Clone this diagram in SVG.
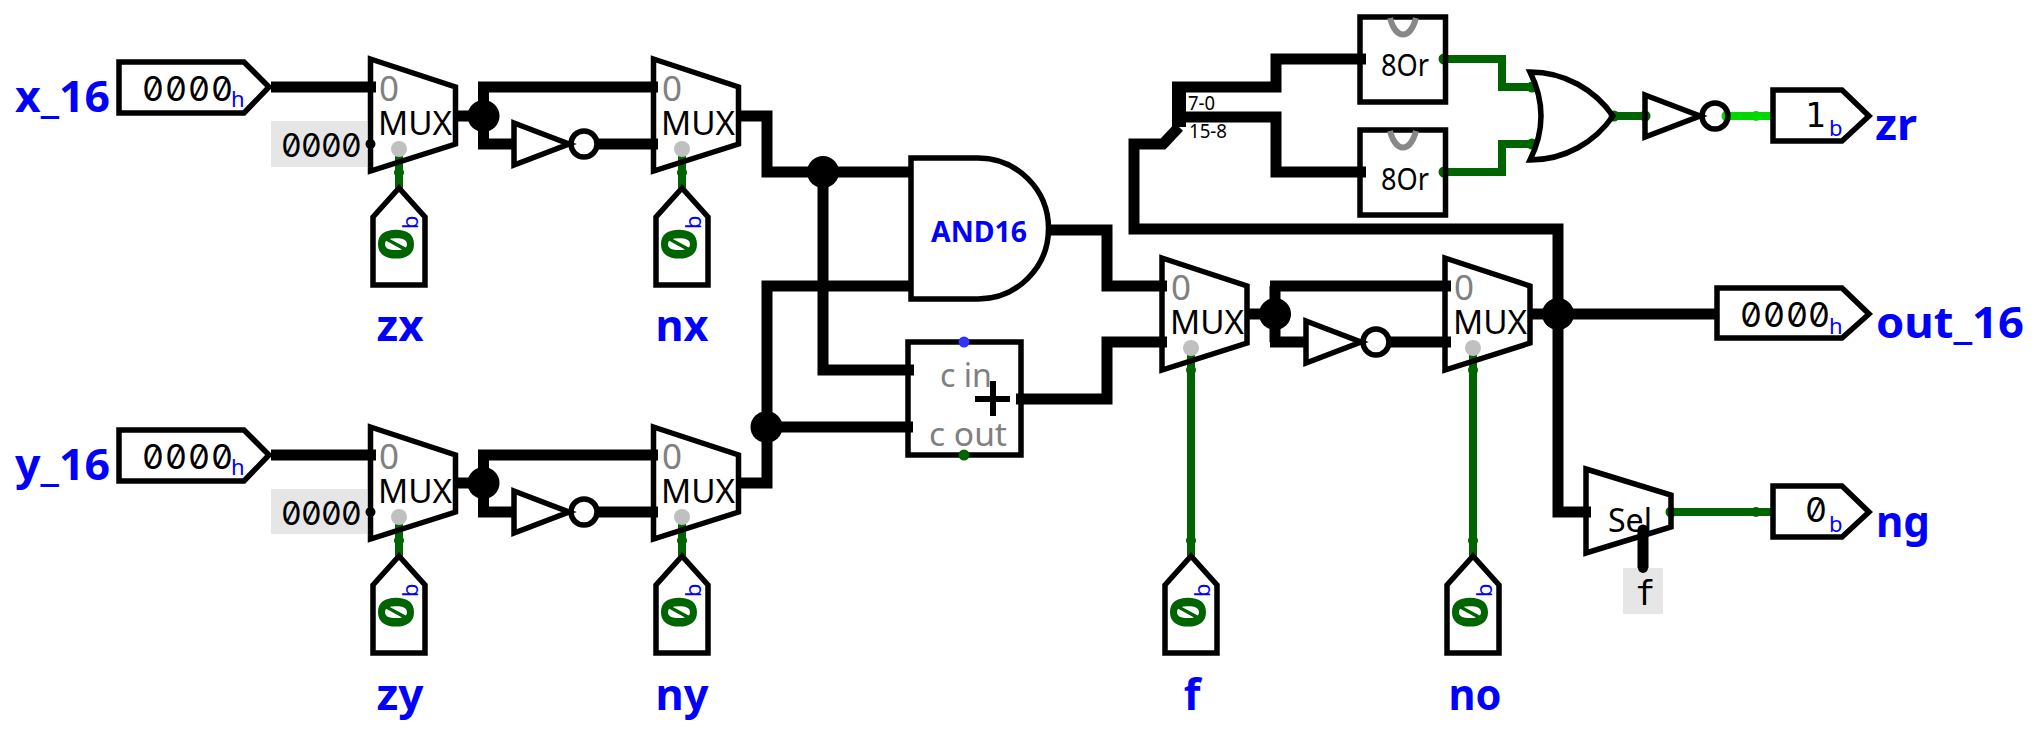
<svg xmlns="http://www.w3.org/2000/svg" xmlns:xlink="http://www.w3.org/1999/xlink" width="2039" height="738" viewBox="0 0 2039 738">
<style>
.s{fill:none;stroke:#000;stroke-width:5.5;stroke-linejoin:miter;stroke-miterlimit:6}
.w{fill:none;stroke:#000;stroke-width:11;stroke-linejoin:miter}
.g{fill:none;stroke:#006400;stroke-width:8;stroke-linejoin:miter}
.l{fill:none;stroke:#00d800;stroke-width:8}
.lab{font-family:"Noto Sans",sans-serif;font-weight:700;font-size:43px;fill:#0000ff}
.t{font-family:"Noto Sans",sans-serif;font-size:32px;fill:#000}
.gr{font-family:"Noto Sans",sans-serif;font-size:33px;fill:#808080}
.n{font-family:"Noto Sans",sans-serif;font-size:35px;fill:#808080}
.m{font-family:"Inter",sans-serif;font-feature-settings:"zero","tnum";font-size:34px;fill:#000}
.k{font-family:"Inter",sans-serif;font-feature-settings:"zero","tnum";font-size:32px;fill:#000}
.f{font-family:"DejaVu Sans Mono",monospace;font-size:34px;fill:#000}
.u{font-family:"Noto Sans",sans-serif;font-size:22px;fill:#0000ff}
.z{font-family:"Inter",sans-serif;font-feature-settings:"zero","tnum";font-weight:800;font-size:50px;fill:#006400;text-anchor:middle}
.sp{font-family:"Noto Sans",sans-serif;font-size:19px;fill:#000}
.bg{fill:#e6e6e6}
.dot{fill:#c0c0c0}
.gd{fill:#006400}
.ld{fill:#00d800}
.kd{fill:#000}
</style>
<defs>
<polygon id="muxShape" class="s" points="0,-28 85,0 85,57 0,84"/>
<g id="notShape"><polygon class="s" points="0,-21 55,0 0,21"/><circle class="s" cx="70" cy="0" r="13"/></g>
<polygon id="inShape" class="s" points="-26,29 0,0 26,29 26,97 -26,97"/>
</defs>

<g id="connectors">
<path class="w" d="M271,87H376"/>
<path class="w" d="M455,116H483.5M483.5,87V144M478,87H658M478,144H516M597,144H658"/>
<path class="w" d="M271,455H376"/>
<path class="w" d="M455,483H483.5M483.5,455V512M478,455H658M478,512H516M597,512H658"/>
<path class="w" d="M738,116H767V172H911"/>
<path class="w" d="M823,172V370H914"/>
<path class="w" d="M738,483H767V286H911"/>
<path class="w" d="M767,427H913"/>
<path class="w" d="M1048,230H1107V286H1167"/>
<path class="w" d="M1016,399H1107V342H1167"/>
<path class="w" d="M1247,314H1275M1275,286V342M1270,286H1451M1270,342H1308M1389,342H1451"/>
<path class="w" d="M1530,314H1715"/>
<path class="w" d="M1558,314V229H1134V144H1163L1179,127"/>
<path class="w" d="M1558,314V512H1591"/>
<path class="w" style="stroke-width:14" d="M1179,127V83"/>
<path class="w" d="M1172,87H1276V59H1366"/>
<path class="w" d="M1172,117H1276V172H1366"/>
<path class="w" style="stroke-linecap:round" d="M1643,530V569"/>
<path class="g" d="M1444,59H1502V87H1532"/>
<path class="g" d="M1444,172H1502V144H1532"/>
<path class="g" d="M1614,116H1645"/>
<path class="l" d="M1727,116H1773"/>
<path class="g" d="M1671,512H1773"/>
<path class="g" d="M399,151V188"/>
<path class="g" d="M682,151V188"/>
<path class="g" d="M399,519V556"/>
<path class="g" d="M682,519V556"/>
<path class="g" d="M1191,350V556"/>
<path class="g" d="M1473,350V556"/>
<circle class="gd" cx="1444" cy="59" r="5.5"/><circle class="gd" cx="1532" cy="87" r="5.5"/>
<circle class="gd" cx="1444" cy="172" r="5.5"/><circle class="gd" cx="1532" cy="144" r="5.5"/>
<circle class="gd" cx="1614" cy="116" r="5.5"/><circle class="gd" cx="1645" cy="116" r="5.5"/>
<circle class="ld" cx="1727" cy="116" r="5.5"/><circle class="ld" cx="1756" cy="116" r="5"/>
<circle class="gd" cx="1671" cy="512" r="5.5"/><circle class="gd" cx="1756" cy="512" r="5"/>
<circle class="gd" cx="399" cy="172.500" r="5"/><circle class="gd" cx="682" cy="172.500" r="5"/>
<circle class="gd" cx="399" cy="540.500" r="5"/><circle class="gd" cx="682" cy="540.500" r="5"/>
<circle class="gd" cx="1191" cy="540.500" r="5"/><circle class="gd" cx="1473" cy="540.500" r="5"/>
<circle class="gd" cx="1191" cy="370" r="5"/><circle class="gd" cx="1473" cy="370" r="5"/>
<circle class="kd" cx="483.500" cy="116" r="16"/>
<circle class="kd" cx="483.500" cy="483" r="16"/>
<circle class="kd" cx="823" cy="172" r="16"/>
<circle class="kd" cx="766.500" cy="427" r="16"/>
<circle class="kd" cx="1275" cy="314" r="16"/>
<circle class="kd" cx="1558" cy="314" r="16"/>
</g>

<g id="pin_x"><polygon class="s" points="119,62 244,62 269,87 244,113 119,113"/><text class="m" x="142 165 188 211" y="101">0000</text><text class="u" x="231" y="107">h</text><text class="lab" x="15" y="112" textLength="95" lengthAdjust="spacingAndGlyphs">x_16</text></g>
<g id="pin_y"><polygon class="s" points="119,430 244,430 269,455 244,481 119,481"/><text class="m" x="142 165 188 211" y="469">0000</text><text class="u" x="231" y="475">h</text><text class="lab" x="15" y="480" textLength="95" lengthAdjust="spacingAndGlyphs">y_16</text></g>

<g id="const_x"><rect class="bg" x="271" y="121" width="96" height="46"/><text class="k" x="281 301 321 341" y="157">0000</text><circle class="kd" cx="370.500" cy="144" r="5"/></g>
<g id="const_y"><rect class="bg" x="271" y="489" width="96" height="45"/><text class="k" x="281 301 321 341" y="525">0000</text><circle class="kd" cx="370.500" cy="512" r="5"/></g>

<g id="mux_zx"><use xlink:href="#muxShape" href="#muxShape" x="370.500" y="87"/><text class="n" x="379" y="101">0</text><text class="t" x="378" y="135" textLength="74" lengthAdjust="spacingAndGlyphs">MUX</text><circle class="dot" cx="399" cy="149" r="8"/></g>
<g id="mux_nx"><use xlink:href="#muxShape" href="#muxShape" x="653.500" y="87"/><text class="n" x="662" y="101">0</text><text class="t" x="661" y="135" textLength="74" lengthAdjust="spacingAndGlyphs">MUX</text><circle class="dot" cx="682" cy="149" r="8"/></g>
<g id="mux_zy"><use xlink:href="#muxShape" href="#muxShape" x="370.500" y="455"/><text class="n" x="379" y="469">0</text><text class="t" x="378" y="503" textLength="74" lengthAdjust="spacingAndGlyphs">MUX</text><circle class="dot" cx="399" cy="517" r="8"/></g>
<g id="mux_ny"><use xlink:href="#muxShape" href="#muxShape" x="653.500" y="455"/><text class="n" x="662" y="469">0</text><text class="t" x="661" y="503" textLength="74" lengthAdjust="spacingAndGlyphs">MUX</text><circle class="dot" cx="682" cy="517" r="8"/></g>
<g id="mux_f"><use xlink:href="#muxShape" href="#muxShape" x="1162" y="286"/><text class="n" x="1171" y="300">0</text><text class="t" x="1170" y="334" textLength="74" lengthAdjust="spacingAndGlyphs">MUX</text><circle class="dot" cx="1191" cy="348" r="8"/></g>
<g id="mux_no"><use xlink:href="#muxShape" href="#muxShape" x="1445" y="286"/><text class="n" x="1454" y="300">0</text><text class="t" x="1453" y="334" textLength="74" lengthAdjust="spacingAndGlyphs">MUX</text><circle class="dot" cx="1473" cy="348" r="8"/></g>

<g id="not_x"><use xlink:href="#notShape" href="#notShape" x="514" y="144"/></g>
<g id="not_y"><use xlink:href="#notShape" href="#notShape" x="514" y="512"/></g>
<g id="not_o"><use xlink:href="#notShape" href="#notShape" x="1306" y="342"/></g>
<g id="not_z"><use xlink:href="#notShape" href="#notShape" x="1645" y="116"/></g>

<g id="in_zx"><use xlink:href="#inShape" href="#inShape" x="399" y="188"/><text class="z" transform="translate(414,244) rotate(-90)">0</text><text class="u" transform="translate(418,229) rotate(-90)">b</text><text class="lab" x="400" y="341" text-anchor="middle" textLength="47" lengthAdjust="spacingAndGlyphs">zx</text></g>
<g id="in_nx"><use xlink:href="#inShape" href="#inShape" x="682" y="188"/><text class="z" transform="translate(697,244) rotate(-90)">0</text><text class="u" transform="translate(701,229) rotate(-90)">b</text><text class="lab" x="682" y="341" text-anchor="middle" textLength="53" lengthAdjust="spacingAndGlyphs">nx</text></g>
<g id="in_zy"><use xlink:href="#inShape" href="#inShape" x="399" y="556"/><text class="z" transform="translate(414,612) rotate(-90)">0</text><text class="u" transform="translate(418,597) rotate(-90)">b</text><text class="lab" x="400" y="710" text-anchor="middle" textLength="47" lengthAdjust="spacingAndGlyphs">zy</text></g>
<g id="in_ny"><use xlink:href="#inShape" href="#inShape" x="682" y="556"/><text class="z" transform="translate(697,612) rotate(-90)">0</text><text class="u" transform="translate(701,597) rotate(-90)">b</text><text class="lab" x="682" y="710" text-anchor="middle" textLength="53" lengthAdjust="spacingAndGlyphs">ny</text></g>
<g id="in_f"><use xlink:href="#inShape" href="#inShape" x="1191" y="556"/><text class="z" transform="translate(1206,612) rotate(-90)">0</text><text class="u" transform="translate(1210,597) rotate(-90)">b</text><text class="lab" x="1192" y="710" text-anchor="middle">f</text></g>
<g id="in_no"><use xlink:href="#inShape" href="#inShape" x="1473" y="556"/><text class="z" transform="translate(1488,612) rotate(-90)">0</text><text class="u" transform="translate(1492,597) rotate(-90)">b</text><text class="lab" x="1475" y="710" text-anchor="middle" textLength="53" lengthAdjust="spacingAndGlyphs">no</text></g>

<g id="and16"><path class="s" d="M911,158H978A70.500,70.500 0 0 1 978,299H911Z"/><text x="979" y="242" text-anchor="middle" textLength="96" lengthAdjust="spacingAndGlyphs" style="font-family:'Noto Sans',sans-serif;font-weight:700;font-size:28px;fill:#0000ff">AND16</text></g>

<g id="adder"><rect class="s" x="908" y="342" width="113" height="113"/><text class="gr" x="940" y="387" textLength="52" lengthAdjust="spacingAndGlyphs">c in</text><text class="gr" x="929" y="446" textLength="78" lengthAdjust="spacingAndGlyphs">c out</text><path d="M975,399H1010M993,381V416" style="fill:none;stroke:#000;stroke-width:6"/><circle cx="964" cy="342" r="5.500" style="fill:#3333ff"/><circle class="gd" cx="964" cy="455" r="5.500"/></g>

<g id="splitter"><text class="sp" x="1188" y="110" textLength="27" lengthAdjust="spacingAndGlyphs">7-0</text><text class="sp" x="1189" y="138" textLength="38" lengthAdjust="spacingAndGlyphs">15-8</text></g>

<g id="or8_a"><rect class="s" x="1360" y="17" width="85.500" height="85"/><path d="M1390,18C1396,40 1410,40 1416,18" style="fill:none;stroke:#888;stroke-width:6"/><text class="t" x="1381" y="76" textLength="48" lengthAdjust="spacingAndGlyphs" style="font-size:30px">8Or</text></g>
<g id="or8_b"><rect class="s" x="1360" y="130" width="85.500" height="85"/><path d="M1390,131C1396,153 1410,153 1416,131" style="fill:none;stroke:#888;stroke-width:6"/><text class="t" x="1381" y="190" textLength="48" lengthAdjust="spacingAndGlyphs" style="font-size:30px">8Or</text></g>

<g id="or_gate"><path class="s" d="M1530,72C1565,72 1595,90 1613,116C1595,142 1565,160 1530,160Q1552,116 1530,72Z"/></g>

<g id="out_zr"><polygon class="s" points="1773,90 1842,90 1869,116 1842,141 1773,141"/><text class="f" x="1805" y="127">1</text><text class="u" x="1829" y="136">b</text><text class="lab" x="1875" y="140" textLength="42" lengthAdjust="spacingAndGlyphs">zr</text></g>
<g id="out_16"><polygon class="s" points="1717,288 1842,288 1869,314 1842,338 1717,338"/><text class="m" x="1740 1763 1786 1808" y="327">0000</text><text class="u" x="1829" y="334">h</text><text class="lab" x="1876" y="338" textLength="148" lengthAdjust="spacingAndGlyphs">out_16</text></g>
<g id="out_ng"><polygon class="s" points="1773,486 1842,486 1869,512 1842,537 1773,537"/><text class="m" x="1805" y="522">0</text><text class="u" x="1829" y="532">b</text><text class="lab" x="1876" y="537" textLength="54" lengthAdjust="spacingAndGlyphs">ng</text></g>

<g id="sel"><polygon class="s" points="1586,469 1671,495 1671,527 1586,553"/><text class="t" x="1608" y="532" textLength="44" lengthAdjust="spacingAndGlyphs">Sel</text></g>
<g id="const_f"><rect class="bg" x="1623" y="568" width="40" height="46"/><text class="f" x="1645" y="605" text-anchor="middle">f</text></g>
<g id="stub_f"><path style="fill:#000;stroke:none" d="M1638,568a5,5 0 0 0 10,0z"/></g>
</svg>
